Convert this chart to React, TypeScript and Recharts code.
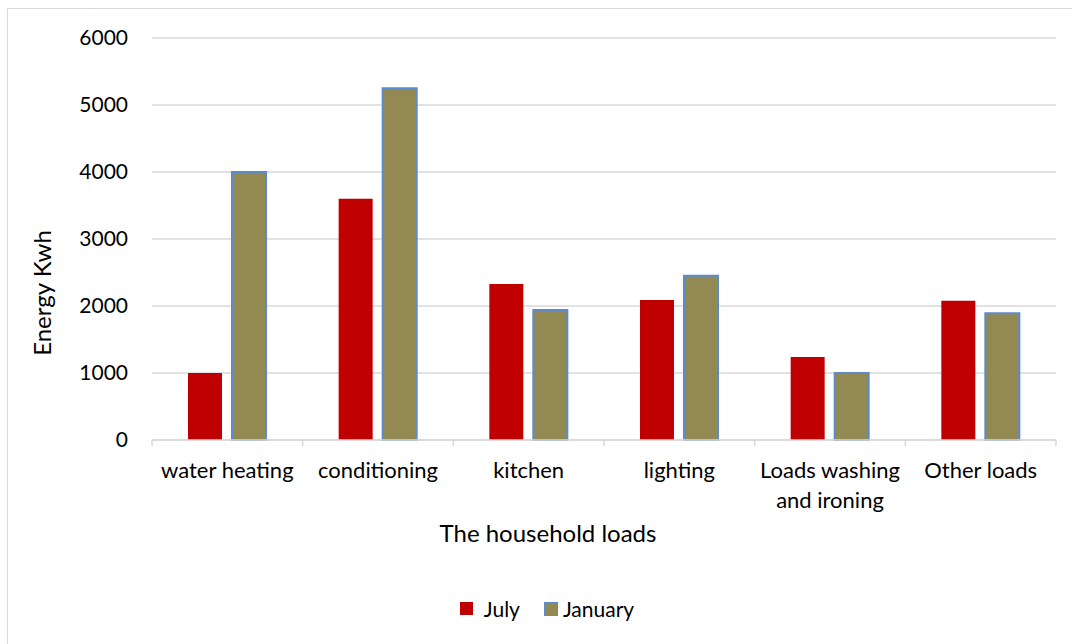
import React from "react";
import { BarChart, Bar, XAxis, YAxis, CartesianGrid, Legend } from "recharts";

const categories = ["water heating", "conditioning", "kitchen", "lighting", "Loads washing\nand ironing", "Other loads"];
const july = [1000, 3600, 2330, 2090, 1240, 2080];
const january = [4000, 5250, 1940, 2450, 1000, 1890];
const yTicks = [0, 1000, 2000, 3000, 4000, 5000, 6000];

const data = categories.map((c, i) => ({ name: c, July: july[i], January: january[i] }));

const W = 1072;
const H = 644;
const M = { top: 38, right: 16, left: 0, bottom: 109 };
const Y_W = 152;
const FONT = "Lato, 'Open Sans', sans-serif";
const plotW = W - M.left - M.right - Y_W;
const band = plotW / categories.length;

const XTick = (props: any) => {
  const { x, y, payload, index } = props;
  const lines = String(payload.value).split("\n");
  const half = band / 2;
  return (
    <g>
      <line x1={x - half} x2={x - half} y1={y - 8} y2={y - 2} stroke="#d9d9d9" strokeWidth={1.5} />
      {index === categories.length - 1 && (
        <line x1={x + half} x2={x + half} y1={y - 8} y2={y - 2} stroke="#d9d9d9" strokeWidth={1.5} />
      )}
      <text x={x} y={y + 30} textAnchor="middle" fill="#000" fontSize={22} fontFamily={FONT}>
        {lines.map((l, i) => (
          <tspan key={i} x={x} dy={i === 0 ? 0 : 30}>{l}</tspan>
        ))}
      </text>
    </g>
  );
};

const YTitle = (props: any) => {
  const vb = props.viewBox || { x: 0, y: 38, width: 152, height: 402 };
  const cx = 51;
  const cy = vb.y + vb.height / 2 + 54;
  return (
    <text x={cx} y={cy} transform={`rotate(-90, ${cx}, ${cy})`} textAnchor="middle" fontSize={24} fill="#000" fontFamily={FONT}>
      Energy Kwh
    </text>
  );
};

const XTitle = (props: any) => {
  const vb = props.viewBox || { x: 152, y: 440, width: 904, height: 70 };
  const cx = vb.x + vb.width / 2 - 56;
  const cy = vb.y + 102;
  return (
    <text x={cx} y={cy} textAnchor="middle" fontSize={24} fill="#000" fontFamily={FONT}>
      The household loads
    </text>
  );
};

const LegendContent = () => (
  <div style={{ display: "flex", justifyContent: "center", alignItems: "center", fontFamily: FONT, fontSize: 21, color: "#000", paddingLeft: 22 }}>
    <span style={{ display: "inline-block", width: 13, height: 13, background: "#C00000", marginRight: 11 }} />
    <span style={{ marginRight: 24 }}>July</span>
    <span style={{ display: "inline-block", width: 12, height: 12, background: "#938953", border: "1.5px solid #5B8BC9", marginRight: 5 }} />
    <span>January</span>
  </div>
);

export default function App() {
  return (
    <div style={{ position: "relative", width: W, height: H, background: "#fff", overflow: "hidden" }}>
      <style>{`body{margin:0;}`}</style>
      <div style={{ position: "absolute", left: 7, top: 8, width: W, height: H, border: "1.5px solid #d9d9d9", boxSizing: "border-box" }} />
      <BarChart width={W} height={H} data={data} margin={M} barSize={34} barGap={10} style={{ position: "absolute", left: 0, top: 0 }}>
        <CartesianGrid vertical={false} stroke="#d9d9d9" strokeWidth={1.5} />
        <XAxis
          dataKey="name"
          axisLine={{ stroke: "#d9d9d9", strokeWidth: 1.5 }}
          tickLine={false}
          tick={<XTick />}
          interval={0}
          height={70}
          label={<XTitle />}
        />
        <YAxis
          width={Y_W}
          domain={[0, 6000]}
          ticks={yTicks}
          axisLine={false}
          tickLine={false}
          tickSize={0}
          tickMargin={24}
          tick={{ fontSize: 21, fill: "#000", fontFamily: FONT }}
          label={<YTitle />}
        />
        <Legend verticalAlign="bottom" content={<LegendContent />} wrapperStyle={{ top: 596, left: 0, width: W }} />
        <Bar dataKey="July" fill="#C00000" isAnimationActive={false} />
        <Bar dataKey="January" fill="#938953" stroke="#5B8BC9" strokeWidth={2} isAnimationActive={false} />
      </BarChart>
    </div>
  );
}
